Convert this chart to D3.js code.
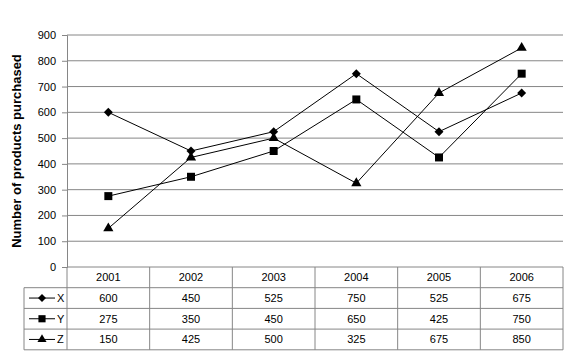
<!DOCTYPE html>
<html>
<head>
<meta charset="utf-8">
<script src="https://cdn.jsdelivr.net/npm/d3@7"></script>
<style>
  body { margin: 0; background: #fff; }
  text { font-family: "Liberation Sans", Arial, sans-serif; fill: #000; }
</style>
</head>
<body>
<svg id="chart" width="574" height="363"></svg>
<script>
const years = ["2001", "2002", "2003", "2004", "2005", "2006"];
const seriesNames = ["X", "Y", "Z"];
const xValues = [600, 450, 525, 750, 525, 675];
const yValues = [275, 350, 450, 650, 425, 750];
const zValues = [150, 425, 500, 325, 675, 850];
const yTicks = [0, 100, 200, 300, 400, 500, 600, 700, 800, 900];

// diamond drawn as a square turned 45 degrees
const squareDiamond = {
  draw(context, size) {
    const r = Math.sqrt(size / 2);
    context.moveTo(0, -r);
    context.lineTo(r, 0);
    context.lineTo(0, r);
    context.lineTo(-r, 0);
    context.closePath();
  }
};

const series = [
  { name: seriesNames[0], values: xValues, symbol: squareDiamond, size: 40 },
  { name: seriesNames[1], values: yValues, symbol: d3.symbolSquare, size: 64 },
  { name: seriesNames[2], values: zValues, symbol: d3.symbolTriangle, size: 45 }
];

const plotLeft = 67, plotRight = 563, plotTop = 35, plotBottom = 267;
const rowH = 20.7, legendLeft = 24;
const gridColor = "#868686";

const svg = d3.select("#chart");

const x = d3.scaleBand().domain(years).range([plotLeft, plotRight]);
const y = d3.scaleLinear().domain([0, 900]).range([plotBottom, plotTop]);

// gridlines
svg.append("g")
  .selectAll("line")
  .data(yTicks.filter(d => d > 0))
  .enter().append("line")
  .attr("x1", plotLeft).attr("x2", plotRight)
  .attr("y1", d => y(d)).attr("y2", d => y(d))
  .attr("stroke", gridColor).attr("stroke-width", 1);

// y axis
const yAxis = svg.append("g")
  .attr("transform", `translate(${plotLeft},0)`)
  .call(d3.axisLeft(y).tickValues(yTicks).tickSize(5).tickPadding(6));
yAxis.select(".domain").attr("stroke", gridColor);
yAxis.selectAll(".tick line").attr("stroke", gridColor);
yAxis.selectAll(".tick text").style("font-size", "11px").attr("fill", "#000");

// y title
svg.append("text")
  .attr("transform", `translate(21,${(plotTop + plotBottom) / 2}) rotate(-90)`)
  .attr("text-anchor", "middle")
  .style("font-size", "13px")
  .style("font-weight", "bold")
  .text("Number of products purchased");

// data table
const table = svg.append("g");
const tableBottom = plotBottom + rowH * 4;
table.append("line")
  .attr("x1", plotLeft).attr("x2", plotRight)
  .attr("y1", plotBottom).attr("y2", plotBottom)
  .attr("stroke", gridColor);
for (let r = 1; r <= 4; r++) {
  table.append("line")
    .attr("x1", legendLeft).attr("x2", plotRight)
    .attr("y1", plotBottom + rowH * r).attr("y2", plotBottom + rowH * r)
    .attr("stroke", gridColor);
}
table.append("line")
  .attr("x1", legendLeft).attr("x2", legendLeft)
  .attr("y1", plotBottom + rowH).attr("y2", tableBottom)
  .attr("stroke", gridColor);
years.forEach(yr => {
  table.append("line")
    .attr("x1", x(yr) + x.bandwidth()).attr("x2", x(yr) + x.bandwidth())
    .attr("y1", plotBottom).attr("y2", tableBottom)
    .attr("stroke", gridColor);
});
table.append("line")
  .attr("x1", plotLeft).attr("x2", plotLeft)
  .attr("y1", plotBottom).attr("y2", tableBottom)
  .attr("stroke", gridColor);

// header
table.selectAll(".yr")
  .data(years)
  .enter().append("text")
  .attr("x", d => x(d) + x.bandwidth() / 2)
  .attr("y", plotBottom + rowH / 2 + 4)
  .attr("text-anchor", "middle")
  .style("font-size", "11px")
  .text(d => d);

// rows
series.forEach((s, i) => {
  const cy = plotBottom + rowH * (i + 1) + rowH / 2;
  table.append("line")
    .attr("x1", 29).attr("x2", 55)
    .attr("y1", cy).attr("y2", cy)
    .attr("stroke", "#000");
  table.append("path")
    .attr("d", d3.symbol().type(s.symbol).size(s.size * 0.8)())
    .attr("transform", `translate(42,${cy})`)
    .attr("fill", "#000");
  table.append("text")
    .attr("x", 57).attr("y", cy + 4)
    .style("font-size", "11px")
    .text(s.name);
  table.selectAll(".v" + i)
    .data(s.values)
    .enter().append("text")
    .attr("x", (d, j) => x(years[j]) + x.bandwidth() / 2)
    .attr("y", cy + 4)
    .attr("text-anchor", "middle")
    .style("font-size", "11px")
    .text(d => d);
});

// lines and markers
const line = d3.line()
  .x((d, j) => x(years[j]) + x.bandwidth() / 2)
  .y(d => y(d));

series.forEach(s => {
  svg.append("path")
    .datum(s.values)
    .attr("d", line)
    .attr("fill", "none")
    .attr("stroke", "#000")
    .attr("stroke-width", 1);
  svg.append("g")
    .selectAll("path")
    .data(s.values)
    .enter().append("path")
    .attr("d", d3.symbol().type(s.symbol).size(s.size))
    .attr("transform", (d, j) => `translate(${x(years[j]) + x.bandwidth() / 2},${y(d)})`)
    .attr("fill", "#000");
});
</script>
</body>
</html>
